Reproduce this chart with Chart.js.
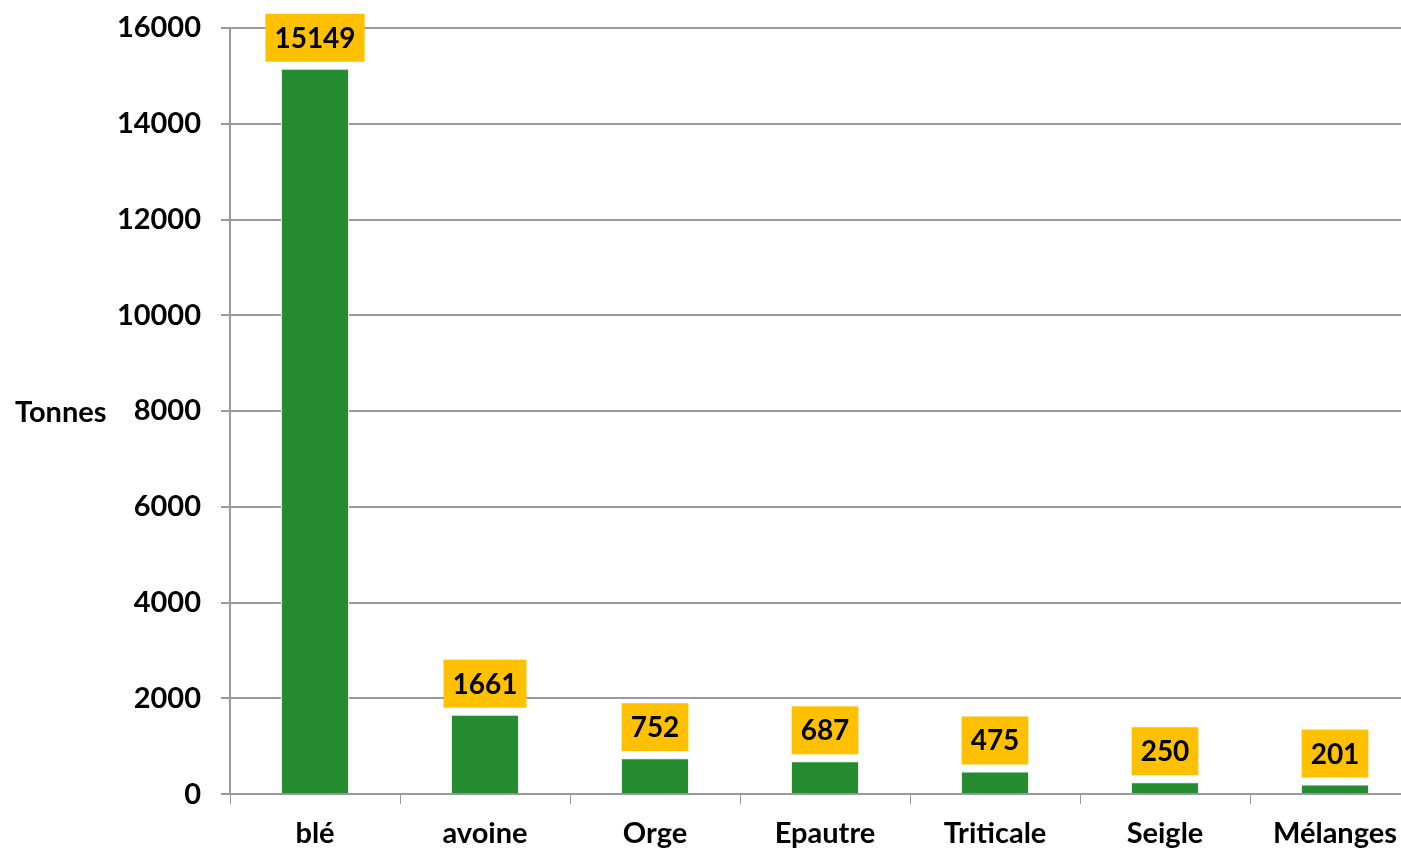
<!DOCTYPE html>
<html>
<head>
<meta charset="utf-8">
<script src="https://cdn.jsdelivr.net/npm/chart.js@4"></script>
<style>
  html, body { margin: 0; padding: 0; overflow: hidden; background: #fff; }
  #wrap { width: 1420px; height: 863px; }
</style>
</head>
<body>
<div id="wrap"><canvas id="barGraph"></canvas></div>
<script>
// Cereal tonnages
var categories = ['blé', 'avoine', 'Orge', 'Epautre', 'Triticale', 'Seigle', 'Mélanges'];
var tonnes = [15149, 1661, 752, 687, 475, 250, 201];
var yTitle = 'Tonnes';

var FONT = 'Lato, "Open Sans", sans-serif';

// Yellow value boxes above each bar, plus the horizontal y title
var valueBoxes = {
    id: 'valueBoxes',
    afterDatasetsDraw: function (chart) {
        var ctx = chart.ctx;
        var meta = chart.getDatasetMeta(0);
        ctx.save();
        ctx.font = 'bold 28px ' + FONT;
        ctx.textAlign = 'center';
        ctx.textBaseline = 'middle';
        meta.data.forEach(function (bar, i) {
            var txt = String(tonnes[i]);
            var w = ctx.measureText(txt).width + 18;
            var h = 48;
            var bottom = bar.y - 7;
            ctx.fillStyle = '#FFC000';
            ctx.fillRect(bar.x - w / 2, bottom - h, w, h);
            ctx.fillStyle = '#000';
            ctx.fillText(txt, bar.x, bottom - h / 2 + 1);
        });
        // y axis title, drawn horizontally like the original
        var yScale = chart.scales.y;
        ctx.textAlign = 'left';
        ctx.font = 'bold 29px ' + FONT;
        ctx.fillText(yTitle, 15, yScale.getPixelForValue(8000) + 2);
        ctx.restore();
    }
};

var canvas = document.getElementById('barGraph');

var barGraph = new Chart(canvas, {
    type: 'bar',
    data: {
        labels: categories,
        datasets: [{
            label: yTitle,
            data: tonnes,
            backgroundColor: '#258C31',
            borderColor: '#E8F0E8',
            borderWidth: 1,
            barPercentage: 0.4,
            categoryPercentage: 1
        }]
    },
    plugins: [valueBoxes],
    options: {
        maintainAspectRatio: false,
        responsive: true,
        animation: false,
        layout: {
            padding: { top: 28, right: 0, bottom: 0, left: 0 }
        },
        scales: {
            x: {
                grid: {
                    offset: true,
                    drawOnChartArea: false,
                    drawTicks: true,
                    tickLength: 10,
                    color: '#999'
                },
                border: { color: '#999', width: 2 },
                ticks: {
                    color: '#000',
                    padding: 12,
                    font: { family: FONT, size: 29, weight: 'bold' }
                }
            },
            y: {
                min: 0,
                max: 16000,
                afterFit: function (scale) {
                    scale.width = 230;
                    scale.paddingTop = 0;
                },
                grid: {
                    color: '#999',
                    lineWidth: 2,
                    tickLength: 9
                },
                border: { color: '#999', width: 2 },
                ticks: {
                    stepSize: 2000,
                    color: '#000',
                    padding: 20,
                    callback: function (v) { return String(v); },
                    font: { family: FONT, size: 29, weight: 'bold' }
                }
            }
        },
        plugins: {
            legend: { display: false },
            tooltip: { enabled: false }
        }
    }
});
</script>
</body>
</html>
